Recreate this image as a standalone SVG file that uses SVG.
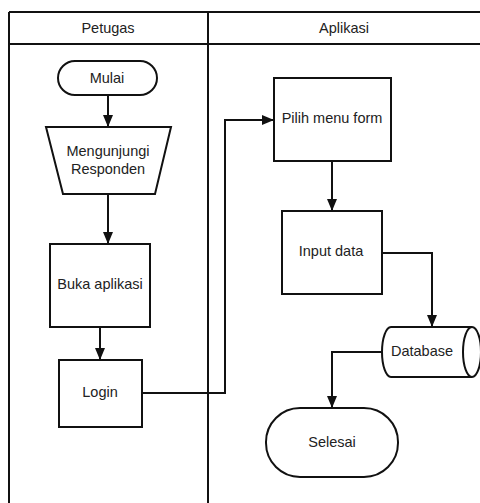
<svg xmlns="http://www.w3.org/2000/svg" width="480" height="503" viewBox="0 0 480 503">
<defs>
<style>
.s{fill:#fff;stroke:#111;stroke-width:2}
.l{fill:none;stroke:#111;stroke-width:2}
text{font-family:"Liberation Sans",Arial,sans-serif;font-size:14.5px;fill:#222;text-anchor:middle;dominant-baseline:central}
</style>
<marker id="a" markerWidth="12" markerHeight="10" refX="11" refY="5" orient="auto" markerUnits="userSpaceOnUse"><path d="M0,0 L12,5 L0,10 Z" fill="#111"/></marker>
</defs>
<rect width="480" height="503" fill="#fff"/>
<g id="lanes">
<path class="l" d="M9,12 H482 M9,44 H482 M9,12 V505 M208,12 V505"/>
<text x="108" y="28">Petugas</text>
<text x="344" y="28">Aplikasi</text>
</g>
<g id="connectors">
<path class="l" d="M108,95 V126" marker-end="url(#a)"/>
<path class="l" d="M108,194 V243" marker-end="url(#a)"/>
<path class="l" d="M100,327 V359" marker-end="url(#a)"/>
<path class="l" d="M142,393 H225 V120 H273" marker-end="url(#a)"/>
<path class="l" d="M332,161 V210" marker-end="url(#a)"/>
<path class="l" d="M382,253 H432 V326" marker-end="url(#a)"/>
<path class="l" d="M383,352 H332 V407" marker-end="url(#a)"/>
</g>
<g id="mulai">
<rect class="s" x="58" y="61" width="99" height="34" rx="17"/>
<text x="107" y="78">Mulai</text>
</g>
<g id="mengunjungi">
<path class="s" d="M46,127 H171 L155,194 H63 Z"/>
<text x="108" y="151">Mengunjungi</text>
<text x="108" y="169">Responden</text>
</g>
<g id="buka">
<rect class="s" x="50" y="244" width="100" height="83"/>
<text x="100" y="284">Buka aplikasi</text>
</g>
<g id="login">
<rect class="s" x="59" y="360" width="83" height="67"/>
<text x="100" y="392">Login</text>
</g>
<g id="pilih">
<rect class="s" x="274" y="78" width="117" height="83"/>
<text x="332" y="118">Pilih menu form</text>
</g>
<g id="input">
<rect class="s" x="282" y="211" width="100" height="83"/>
<text x="331" y="251">Input data</text>
</g>
<g id="database">
<path class="s" d="M391,327 H472 A9,25 0 0 1 472,377 H391 A9,25 0 0 1 391,327 Z"/>
<path class="l" d="M472,327 A9,25 0 0 0 472,377"/>
<text x="422" y="351">Database</text>
</g>
<g id="selesai">
<rect class="s" x="266" y="408" width="132" height="69" rx="34"/>
<text x="332" y="442">Selesai</text>
</g>
</svg>
